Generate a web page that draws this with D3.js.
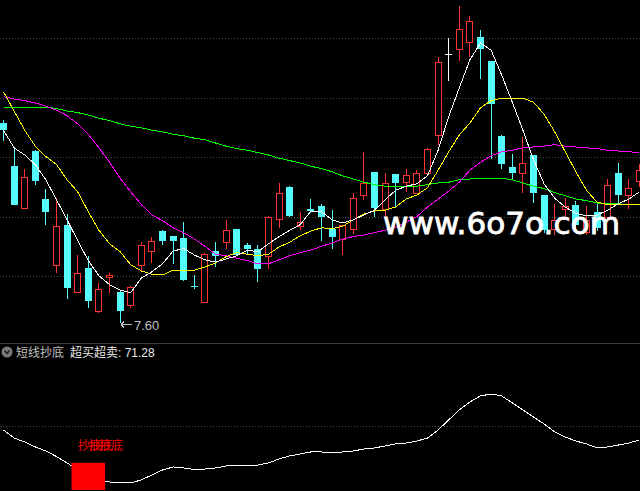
<!DOCTYPE html>
<html>
<head>
<meta charset="utf-8">
<script src="https://cdn.jsdelivr.net/npm/d3@7"></script>
<style>
html,body{margin:0;padding:0;background:#000;overflow:hidden;}
svg{display:block;}
</style>
</head>
<body>
<div id="chart"></div>
<script>
// ---------- DATA ----------
const opens  = [10.10,9.56,9.04,9.75,9.15,8.33,8.83,7.99,8.29,7.75,8.17,7.99,7.83,8.33,8.50,8.75,8.69,8.66,8.06,7.86,
                8.50,8.61,8.78,8.57,8.53,8.44,8.90,9.30,8.81,9.03,9.06,8.77,8.65,8.77,9.20,9.49,9.03,9.46,9.36,9.23,
                9.48,9.95,10.96,11.03,11.11,11.18,10.88,9.94,9.55,9.47,9.70,9.20,8.78,9.03,9.08,8.74,8.99,8.92,9.48,9.20,9.37];
const highs  = [10.14,9.78,9.53,9.76,9.28,9.16,8.96,8.45,8.44,8.10,8.23,8.01,8.06,8.61,8.68,8.76,8.69,8.86,8.20,8.48,
                8.61,8.89,8.78,8.60,8.58,8.94,9.35,9.31,8.99,9.15,9.09,9.01,8.83,9.23,9.74,9.49,9.47,9.46,9.53,9.51,
                9.79,10.93,11.16,11.56,11.44,11.26,10.88,9.95,9.71,9.92,9.70,9.20,9.09,9.16,9.12,9.06,9.11,9.40,9.60,9.40,9.59];
const lows   = [9.87,9.07,9.03,9.33,8.83,8.23,7.90,7.98,7.79,7.73,7.98,7.60,7.79,8.25,8.35,8.58,8.34,8.13,8.02,7.85,
                8.30,8.53,8.44,8.45,8.11,8.28,8.79,8.93,8.76,8.97,8.62,8.53,8.45,8.71,9.14,8.93,8.92,9.05,9.24,9.22,
                9.47,9.83,10.62,10.88,10.93,10.65,9.65,9.53,9.39,9.23,9.10,8.73,8.70,8.91,8.76,8.70,8.75,8.90,9.10,9.02,9.30];
const closes = [10.01,9.08,9.43,9.38,8.99,8.81,8.04,8.22,7.87,8.02,8.20,7.75,8.05,8.58,8.63,8.63,8.62,8.14,8.05,8.46,
                8.44,8.76,8.45,8.53,8.27,8.93,9.22,8.94,8.86,9.00,8.93,8.67,8.82,9.16,9.35,9.04,9.35,9.35,9.45,9.47,
                9.77,10.86,10.96,11.27,11.37,11.02,10.34,9.59,9.47,9.60,9.22,8.76,8.89,9.06,8.82,8.89,8.79,9.33,9.20,9.29,9.51];

const ma5  = [10.01,9.79,9.70,9.58,9.39,9.14,8.89,8.63,8.38,8.19,8.08,8.01,7.98,8.16,8.24,8.34,8.50,8.53,8.45,8.39,
              8.36,8.40,8.44,8.51,8.49,8.59,8.68,8.76,8.83,9.00,8.99,8.89,8.85,8.89,8.95,9.01,9.14,9.26,9.31,9.34,
              9.44,9.76,10.18,10.54,10.89,11.10,11.01,10.70,10.36,10.01,9.64,9.34,9.16,9.05,8.97,8.94,8.95,9.01,9.09,9.15,9.24];
const ma10 = [10.49,10.25,10.01,9.81,9.68,9.58,9.39,9.24,8.99,8.76,8.59,8.49,8.33,8.25,8.21,8.20,8.26,8.25,8.26,8.30,
              8.35,8.43,8.48,8.46,8.44,8.46,8.55,8.61,8.69,8.75,8.79,8.78,8.81,8.89,8.96,9.00,9.01,9.05,9.15,9.20,
              9.29,9.51,9.74,9.95,10.10,10.29,10.38,10.41,10.41,10.41,10.36,10.21,9.99,9.74,9.49,9.26,9.11,9.08,9.08,9.08,9.08];
const ma30 = [10.43,10.40,10.38,10.35,10.31,10.26,10.19,10.09,9.96,9.79,9.61,9.41,9.24,9.08,8.95,8.88,8.79,8.73,8.65,8.56,
              8.46,8.44,8.41,8.38,8.34,8.34,8.39,8.44,8.48,8.51,8.56,8.60,8.65,8.68,8.70,8.73,8.76,8.80,8.86,8.93,
              9.05,9.15,9.25,9.36,9.51,9.61,9.69,9.74,9.76,9.79,9.80,9.81,9.83,9.81,9.80,9.79,9.78,9.76,9.75,9.74,9.73];
const ma60 = [10.30,10.30,10.30,10.30,10.30,10.28,10.25,10.23,10.20,10.16,10.13,10.09,10.06,10.04,10.01,9.99,9.96,9.94,9.91,9.89,
              9.85,9.81,9.78,9.76,9.73,9.70,9.66,9.63,9.60,9.56,9.53,9.49,9.44,9.40,9.36,9.33,9.31,9.30,9.31,9.31,
              9.33,9.35,9.36,9.39,9.40,9.41,9.41,9.41,9.39,9.35,9.31,9.28,9.23,9.19,9.15,9.13,9.10,9.09,9.09,9.08,9.08];

// 超买超卖 oscillator
const osc = [77.5,72.5,70.0,66.9,64.4,60.9,56.9,52.5,48.1,45.6,45.0,44.4,44.4,46.3,49.4,52.5,54.4,53.8,52.8,53.1,
             53.8,55.0,55.6,55.6,55.6,56.9,59.4,61.3,62.5,63.8,63.8,63.1,63.8,64.4,65.6,66.3,67.5,68.8,69.4,70.6,
             72.5,77.5,83.8,90.0,95.0,98.8,100.0,98.8,94.4,90.0,85.6,81.3,76.3,73.1,70.6,68.8,66.3,66.9,68.1,69.4,71.28];
const signalIdx = [7, 8, 9];          // bars flagged "抄底"
const signalTop = 57;                 // top value of the signal stick
const gridPrices = [11.16, 10.41, 9.67, 8.93, 8.19];
const subGrid = [80];
const lowMark = {index: 11, label: "7.60"};
const titleName = "短线抄底";
const titleSeries = "超买超卖";
const signalText = "抄底";
const watermark = "www.6o7o.com";

// ---------- DRAW ----------
const W = 640, H = 491;
const svg = d3.select("#chart").append("svg").attr("width", W).attr("height", H)
  .style("background", "#000");

const n = closes.length;
const x = d3.scaleLinear().domain([0, n - 1]).range([3.5, 639.5]);
const y = d3.scaleLinear().domain([7.40, 11.60]).range([339, 3]);
const sy = d3.scaleLinear().domain([40, 130]).range([490, 346]);

const RED = "#ff3232", CYAN = "#54fcfc";

// grid
svg.append("g").selectAll("line").data(gridPrices).join("line")
  .attr("x1", 0).attr("x2", W)
  .attr("y1", d => Math.round(y(d)) + 0.5).attr("y2", d => Math.round(y(d)) + 0.5)
  .attr("stroke", "#4a4a4a").attr("stroke-dasharray", "1,2").attr("shape-rendering", "crispEdges");

// candles
const cg = svg.append("g").attr("shape-rendering", "crispEdges");
const idx = d3.range(n);
const col = i => closes[i] > opens[i] ? RED : (closes[i] < opens[i] ? CYAN : "#ffffff");
const cx = i => Math.floor(x(i));

cg.selectAll("line.wick").data(idx).join("line").attr("class", "wick")
  .attr("x1", i => cx(i) + 0.5).attr("x2", i => cx(i) + 0.5)
  .attr("y1", i => y(highs[i])).attr("y2", i => y(lows[i]))
  .attr("stroke", col);

cg.selectAll("rect.body").data(idx).join("rect").attr("class", "body")
  .each(function(i) {
    const s = d3.select(this);
    const top = y(Math.max(opens[i], closes[i])), bot = y(Math.min(opens[i], closes[i]));
    if (closes[i] > opens[i]) {
      s.attr("x", cx(i) - 3 + 0.5).attr("width", 6)
       .attr("y", Math.round(top) + 0.5).attr("height", Math.max(1, Math.round(bot) - Math.round(top)))
       .attr("fill", "#000").attr("stroke", RED);
    } else {
      s.attr("x", cx(i) - 3).attr("width", 7)
       .attr("y", Math.round(top)).attr("height", Math.max(1, Math.round(bot) - Math.round(top)))
       .attr("fill", col(i));
    }
  });

// moving averages
const lg = svg.append("g").attr("fill", "none").attr("stroke-width", 1).attr("shape-rendering", "crispEdges");
[[ma60, "#00ff00"], [ma30, "#ff00ff"], [ma10, "#ffff00"], [ma5, "#ffffff"]].forEach(([arr, c]) => {
  lg.append("path").datum(arr)
    .attr("d", d3.line().x((d, i) => x(i)).y(d => y(d)))
    .attr("stroke", c);
});

// low marker
const lx = cx(lowMark.index) + 1, ly = Math.round(y(lows[lowMark.index])) + 1.5;
svg.append("path")
  .attr("d", `M${lx},${ly} L${lx + 11},${ly} M${lx},${ly} L${lx + 3},${ly - 3} M${lx},${ly} L${lx + 3},${ly + 3}`)
  .attr("stroke", "#c0c0c0").attr("fill", "none").attr("shape-rendering", "crispEdges");
svg.append("text").attr("x", lx + 13).attr("y", ly + 5)
  .attr("fill", "#c0c0c0").attr("font-family", "Liberation Sans, Arial, sans-serif").attr("font-size", 13)
  .text(lowMark.label);

// watermark
svg.append("text").attr("x", 383).attr("y", 234)
  .attr("fill", "#ffffff").attr("stroke", "#ffffff").attr("stroke-width", 0.8)
  .attr("font-family", "DejaVu Sans, sans-serif")
  .attr("font-size", 30).attr("textLength", 237).attr("lengthAdjust", "spacingAndGlyphs")
  .text(watermark);

// ---------- sub panel ----------
svg.append("line").attr("x1", 0).attr("x2", W).attr("y1", 343.5).attr("y2", 343.5)
  .attr("stroke", "#3c3c3c");

svg.append("g").selectAll("line").data(subGrid).join("line")
  .attr("x1", 0).attr("x2", W)
  .attr("y1", d => Math.round(sy(d)) + 0.5).attr("y2", d => Math.round(sy(d)) + 0.5)
  .attr("stroke", "#4a4a4a").attr("stroke-dasharray", "1,2").attr("shape-rendering", "crispEdges");

svg.append("path").datum(osc)
  .attr("d", d3.line().x((d, i) => x(i)).y(d => sy(d)))
  .attr("fill", "none").attr("stroke", "#ffffff").attr("stroke-width", 1).attr("shape-rendering", "crispEdges");

svg.append("g").selectAll("rect").data(signalIdx).join("rect")
  .attr("x", i => x(i) - 6.2).attr("width", 12.4)
  .attr("y", sy(signalTop)).attr("height", sy(40) - sy(signalTop))
  .attr("fill", "#ff0000");

// the reference draws the same label on each flagged bar, so the labels overlap there too
svg.append("g").selectAll("text").data(signalIdx).join("text")
  .attr("x", i => x(i)).attr("y", 450)
  .attr("fill", "#ff0000").attr("font-family", "Noto Sans CJK SC, sans-serif").attr("font-size", 12)
  .text(signalText);

// title
svg.append("circle").attr("cx", 7).attr("cy", 352).attr("r", 5.5).attr("fill", "#7a7a7a");
svg.append("path").attr("d", "M4.5,350.5 L7,353.5 L9.5,350.5").attr("stroke", "#1a1a1a")
  .attr("stroke-width", 1.4).attr("fill", "none");
const tt = svg.append("text").attr("x", 16).attr("y", 357)
  .attr("font-family", "Liberation Sans, Noto Sans CJK SC, sans-serif").attr("font-size", 12);
tt.append("tspan").attr("fill", "#c0c0c0").text(titleName);
tt.append("tspan").attr("fill", "#e8e8e8").attr("dx", 6)
  .text(titleSeries + ": " + d3.format(".2f")(osc[n - 1]));
</script>
</body>
</html>
